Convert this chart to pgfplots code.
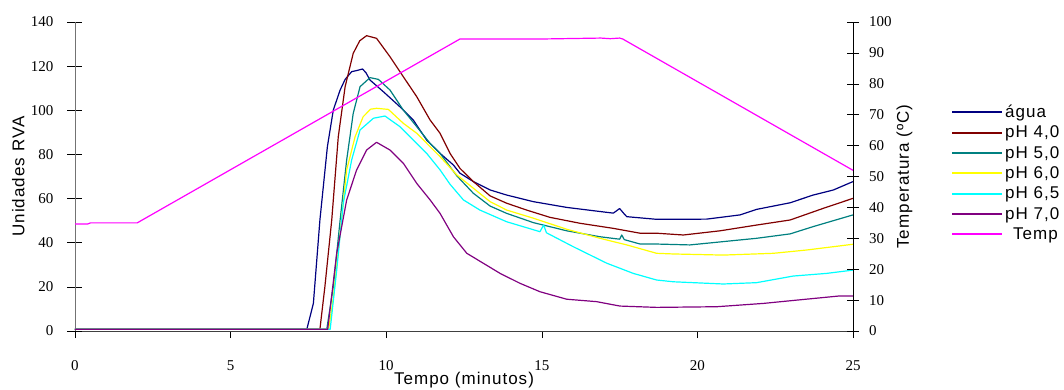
\documentclass[border=0pt]{standalone}
\usepackage{fontspec}
\setmainfont{Liberation Serif}
\newfontfamily\sansf{Liberation Sans}[LetterSpace=6]
\usepackage{pgfplots}
\pgfplotsset{compat=1.18}
\definecolor{cagua}{HTML}{000080}
\definecolor{cph4}{HTML}{800000}
\definecolor{cph5}{HTML}{008080}
\definecolor{cph6}{HTML}{FFFF00}
\definecolor{cph65}{HTML}{00FFFF}
\definecolor{cph7}{HTML}{800080}
\definecolor{ctemp}{HTML}{FF00FF}
\pgfplotsset{
  base/.style={at={(0,0)}, anchor=south west, scale only axis, width=778pt, height=309pt,
    xmin=0, xmax=25, clip=false,
    /pgf/number format/assume math mode=true,
    tick style={black, line width=0.6pt},
    tick label style={font=\fontsize{15}{17}\selectfont},
  },
}
\begin{document}
\begin{tikzpicture}
\path[use as bounding box] (-75pt,-58pt) rectangle (989pt,331pt);
% x axis
\begin{axis}[base, ymin=0, ymax=140,
  axis x line*=bottom, hide y axis, x axis line style={-},
  axis line style={black!75, line width=0.8pt},
  xtick={0,5,...,25}, xtick align=outside, major tick length=7pt,
  xticklabel style={yshift=-19pt},
  xlabel={Tempo (minutos)},
  xlabel style={at={(axis description cs:0.5,-0.16)}, anchor=center, font=\sansf\fontsize{17}{20}\selectfont},
]
\end{axis}
% left axis + RVA
\begin{axis}[base, ymin=0, ymax=140,
  hide x axis, axis y line*=left, y axis line style={-},
  axis line style={black!55, line width=0.8pt},
  ytick={0,20,...,140}, ytick align=center, major tick length=15pt,
  yticklabel style={anchor=east, inner sep=0pt, xshift=-14pt},
  ylabel={Unidades RVA},
  ylabel style={at={(axis description cs:-0.073,0.5)}, anchor=center, font=\sansf\fontsize{17}{20}\selectfont},
  every axis plot/.append style={line width=1.2pt, line join=round},
  legend style={at={(1.122,0.745)}, anchor=north west, draw=none, fill=none,
    font=\sansf\fontsize{17}{20}\selectfont, row sep=3pt},
  legend cell align=left,
  legend image code/.code={\draw[#1, line width=2pt] (0pt,0pt) -- (50pt,0pt);},
]
\addplot[cagua] coordinates {
(0,0.8) (7.45,0.8) (7.66,12.5) (7.87,50.3) (8.11,83.5) (8.30,100.1) (8.52,109.2) (8.68,114) (8.89,117.5) (9.05,118) (9.24,118.7) (9.35,117) (9.48,113.7) (9.91,108.4) (10.44,101.6) (10.87,95.6) (11.3,86.5) (11.73,80.5) (12.16,75.2) (12.37,71.5) (12.8,67.7) (13.34,63.9) (13.87,61.6) (14.73,58.6) (15.8,56) (16.66,54.5) (17.3,53.4) (17.5,55.5) (17.65,53) (17.73,51.8) (18.69,50.6) (19.5,50.6) (20.3,50.7) (21.37,52.6) (21.9,55.1) (22.98,58.1) (23.72,61.6) (24.37,63.9) (25,67.7)};
\addlegendentry{água}
\addplot[cph4] coordinates {
(0,0.8) (7.87,0.8) (8.03,20.1) (8.25,50.3) (8.46,88) (8.68,110.7) (8.94,125.8) (9.15,131.5) (9.37,133.8) (9.69,132.6) (10.12,124.3) (10.55,115.2) (10.98,106.2) (11.41,95.6) (11.73,89.6) (12.05,80.5) (12.37,73.7) (12.8,67.7) (13.34,61.2) (13.87,57.9) (14.51,54.8) (15.26,51.5) (16.23,48.8) (17.3,46.5) (18.16,44.3) (18.69,44.3) (19.55,43.5) (20.73,45.4) (21.9,48) (22.98,50.3) (24.05,55.6) (25,60.1)};
\addlegendentry{pH 4,0}
\addplot[cph5] coordinates {
(0,0.8) (8.09,0.8) (8.30,20) (8.52,50.3) (8.73,77.5) (8.94,98.6) (9.16,110.7) (9.48,114.8) (9.75,114) (10.12,109.2) (10.55,100.1) (10.98,92.6) (11.41,85) (11.73,80.5) (12.27,70.3) (12.8,62.4) (13.34,56.6) (13.87,53.3) (14.73,49.1) (15.8,45.4) (16.87,42.7) (17.5,41.6) (17.57,43.5) (17.65,41.4) (18.16,39.4) (18.69,39.4) (19.76,39) (20.83,40.5) (21.9,42) (22.98,44) (23.72,47.3) (25,52.6)};
\addlegendentry{pH 5,0}
\addplot[cph6] coordinates {
(0,0.8) (8.15,0.8) (8.30,15) (8.52,44.3) (8.73,73) (9.0,88) (9.26,97.1) (9.5,100.5) (9.69,100.9) (10.07,100.4) (10.55,94.1) (10.98,89.6) (11.41,83.5) (11.73,79) (12.27,70.7) (12.8,64.7) (13.34,58.6) (13.87,54.8) (14.73,51.1) (15.8,46.1) (16.87,42) (17.73,39) (18.69,35.2) (19.23,34.9) (20.83,34.4) (22.44,35.2) (23.51,36.7) (24.37,38.2) (25,39.3)};
\addlegendentry{pH 6,0}
\addplot[cph65] coordinates {
(0,0.8) (8.2,0.8) (8.41,27.6) (8.62,57.9) (8.89,77.5) (9.16,91.1) (9.59,96.4) (9.96,97.4) (10.44,92.6) (10.87,86.5) (11.3,80.5) (11.73,73) (12.05,66.5) (12.48,59.4) (13.01,54.8) (13.87,49.5) (14.94,45) (15.06,48) (15.15,44.5) (16.01,38.2) (17.09,30.7) (17.94,26.1) (18.69,23.1) (19.23,22.3) (20.83,21.3) (21.9,21.9) (23.08,24.9) (24.15,26.1) (25,27.6)};
\addlegendentry{pH 6,5}
\addplot[cph7] coordinates {
(0,0.8) (8.12,0.8) (8.41,35.2) (8.73,59.4) (9.05,73) (9.37,82) (9.69,85.5) (10.12,82) (10.55,76) (10.98,66.9) (11.41,59.4) (11.73,53.3) (12.16,42.7) (12.59,35.2) (13.12,30.7) (13.66,26.1) (14.3,21.6) (14.94,17.8) (15.8,14.4) (16.76,13.3) (17.51,11.3) (18.69,10.7) (20.62,11) (22.12,12.5) (22.98,13.7) (24.58,15.9) (25,15.9)};
\addlegendentry{pH 7,0}
\addlegendimage{ctemp, line width=2pt}
\addlegendentry{\hspace{8pt}Temp}
\end{axis}
% right axis + Temp
\begin{axis}[base, ymin=0, ymax=100,
  hide x axis, axis y line*=right, y axis line style={-},
  axis line style={black, line width=0.8pt},
  ytick={0,10,...,100}, ytick align=center, major tick length=12pt,
  yticklabel style={anchor=west, inner sep=0pt, xshift=10pt},
  ylabel={Temperatura (ºC)},
  ylabel style={at={(axis description cs:1.066,0.5)}, anchor=center, font=\sansf\fontsize{17}{20}\selectfont},
]
\addplot[ctemp, line width=1.2pt] coordinates {
(0,34.6) (0.4,34.6) (0.5,35) (2.0,35) (12.37,94.5) (15.0,94.5) (16.9,94.8) (17.2,94.6) (17.5,94.8) (17.6,94.5) (25,52)};
\end{axis}
\end{tikzpicture}
\end{document}
